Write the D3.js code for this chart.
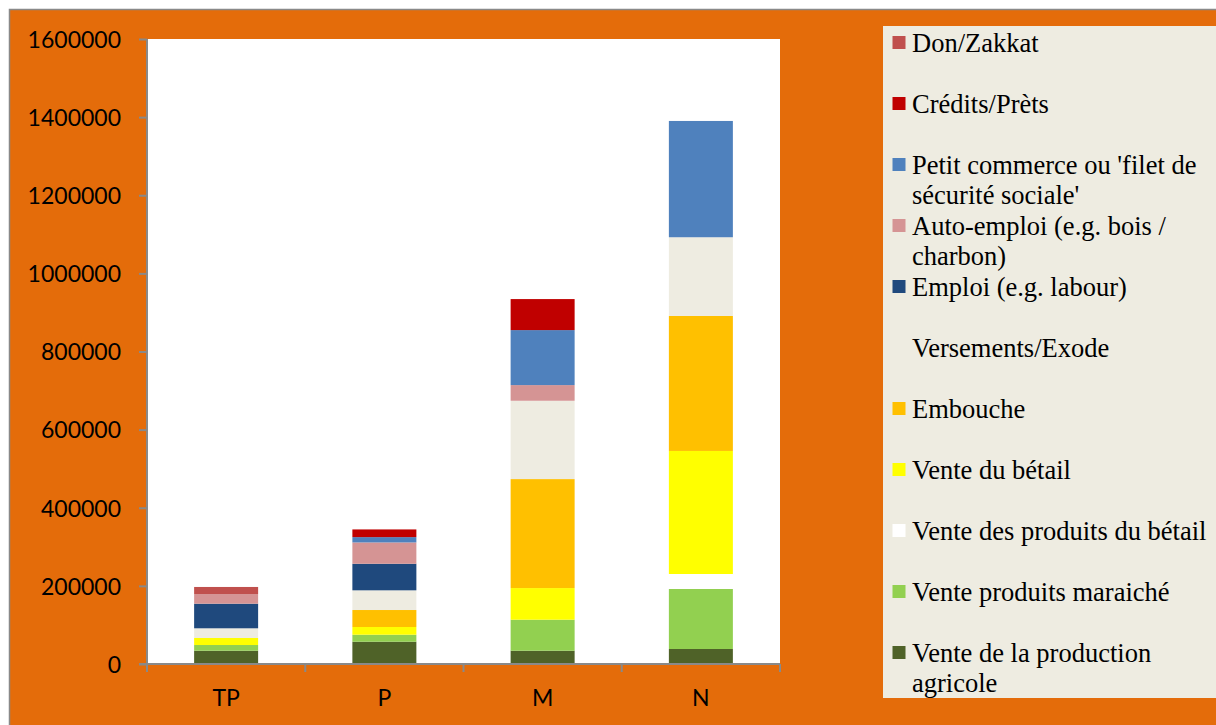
<!DOCTYPE html>
<html>
<head>
<meta charset="utf-8">
<script src="https://cdn.jsdelivr.net/npm/d3@7"></script>
<style>
  html, body { margin: 0; padding: 0; background: #ffffff; }
  svg { display: block; }
</style>
</head>
<body>
<svg id="chart" width="1216" height="725"></svg>
<script>
// ---- data ----
const categories = ["TP", "P", "M", "N"];
const seriesNames = [
  "Vente de la production agricole",
  "Vente produits maraiché",
  "Vente des produits du bétail",
  "Vente du bétail",
  "Embouche",
  "Versements/Exode",
  "Emploi (e.g. labour)",
  "Auto-emploi (e.g. bois / charbon)",
  "Petit commerce ou 'filet de sécurité sociale'",
  "Crédits/Prèts",
  "Don/Zakkat"
];
const venteProductionAgricole = [34000, 57000, 34000, 38400];
const venteProduitsMaraiche   = [14600, 18000, 79400, 153600];
const venteProduitsBetail     = [0, 0, 0, 38400];
const venteBetail             = [18000, 19700, 81000, 315000];
const embouche                = [0, 43500, 279000, 345600];
const versementsExode         = [24800, 50400, 200500, 201500];
const emploi                  = [63000, 68000, 0, 0];
const autoEmploi              = [24800, 54600, 40100, 0];
const petitCommerce           = [0, 13600, 140800, 297700];
const creditsPrets            = [0, 19700, 79400, 0];
const donZakkat               = [18000, 0, 0, 0];
const seriesValues = [
  venteProductionAgricole, venteProduitsMaraiche, venteProduitsBetail, venteBetail,
  embouche, versementsExode, emploi, autoEmploi, petitCommerce, creditsPrets, donZakkat
];
const seriesColors = [
  "#4F6228", "#92D050", "#FFFFFF", "#FFFF00", "#FFC000", "#EEECE1",
  "#1F497D", "#D59494", "#4F81BD", "#C00000", "#C0504D"
];
const yTicks = [0, 200000, 400000, 600000, 800000, 1000000, 1200000, 1400000, 1600000];

// ---- layout ----
const svg = d3.select("#chart");
const W = 1216, H = 725;
const plot = { left: 147, right: 780, top: 39, bottom: 664 };
const ORANGE = "#E46C0A";
const GRAY = "#898989";
const SANS = '"Lato"';
const SERIF = '"Liberation Serif"';

// outer chart frame
svg.append("rect").attr("x", 9.5).attr("y", 9.5).attr("width", W).attr("height", H)
  .attr("fill", ORANGE).attr("stroke", GRAY).attr("stroke-width", 1.5);

// plot background
svg.append("rect").attr("x", plot.left).attr("y", plot.top)
  .attr("width", plot.right - plot.left).attr("height", plot.bottom - plot.top)
  .attr("fill", "#ffffff");

// scales
const x = d3.scaleBand().domain(categories).range([plot.left, plot.right])
  .paddingInner(0.5956).paddingOuter(0.2978);
const y = d3.scaleLinear().domain([0, 1600000]).range([plot.bottom, plot.top]);

// stacked data
const table = categories.map((c, i) => {
  const row = { cat: c };
  seriesNames.forEach((s, j) => { row[s] = seriesValues[j][i]; });
  return row;
});
const stacked = d3.stack().keys(seriesNames)(table);

const g = svg.append("g");
g.selectAll("g.series").data(stacked).join("g")
  .attr("class", "series")
  .attr("fill", (d, i) => seriesColors[i])
  .selectAll("rect").data(d => d.filter(p => p[1] - p[0] > 0)).join("rect")
  .attr("x", d => x(d.data.cat))
  .attr("width", x.bandwidth())
  .attr("y", d => y(d[1]))
  .attr("height", d => y(d[0]) - y(d[1]));

// y axis
const yAxis = svg.append("g").attr("transform", `translate(${plot.left},0)`)
  .call(d3.axisLeft(y).tickValues(yTicks).tickSize(8).tickPadding(18).tickFormat(d => String(d)));
yAxis.attr("font-family", null).attr("font-size", null);
yAxis.select(".domain").attr("stroke", GRAY).attr("stroke-width", 2)
  .attr("d", `M0,${plot.top}V${plot.bottom + 1}`);
yAxis.selectAll(".tick line").attr("stroke", GRAY).attr("stroke-width", 2);
yAxis.selectAll(".tick text")
  .style("font-family", SANS).style("font-size", "23px")
  .attr("fill", "#000").attr("dy", "0.36em");

// x axis
const xAxis = svg.append("g").attr("transform", `translate(0,${plot.bottom})`)
  .call(d3.axisBottom(x).tickSize(0).tickPadding(26));
xAxis.attr("font-family", null).attr("font-size", null);
xAxis.select(".domain").attr("stroke", GRAY).attr("stroke-width", 2)
  .attr("d", `M${plot.left - 8},0H${plot.right}`);
xAxis.selectAll(".tick text")
  .style("font-family", SANS).style("font-size", "23px")
  .attr("fill", "#000");
const step = x.step();
const boundaries = d3.range(categories.length + 1).map(i => plot.left + i * step);
xAxis.selectAll("line.bound").data(boundaries).join("line")
  .attr("class", "bound")
  .attr("x1", d => d).attr("x2", d => d)
  .attr("y1", 0).attr("y2", 8)
  .attr("stroke", GRAY).attr("stroke-width", 2);

// legend
const legend = svg.append("g");
legend.append("rect").attr("x", 883).attr("y", 26).attr("width", 340).attr("height", 672)
  .attr("fill", "#EEECE1");
const legendOrder = seriesNames.map((s, i) => i).reverse();
const textX = 912, maxW = 302, lineH = 30, firstBase = 51.7, entryStep = 61;
legendOrder.forEach((si, k) => {
  const base = firstBase + k * entryStep;
  legend.append("rect").attr("x", 892.5).attr("y", base - 15.7)
    .attr("width", 13).attr("height", 13).attr("fill", seriesColors[si]);
  const t = legend.append("text").attr("x", textX).attr("y", base)
    .style("font-family", SERIF).style("font-size", "26.5px").attr("fill", "#000");
  const words = seriesNames[si].split(" ");
  let line = [];
  let tspan = t.append("tspan").attr("x", textX).attr("y", base)
    .style("font-family", SERIF);
  let lineNo = 0;
  words.forEach(w => {
    line.push(w);
    tspan.text(line.join(" "));
    if (tspan.node().getComputedTextLength() > maxW && line.length > 1) {
      line.pop();
      tspan.text(line.join(" "));
      line = [w];
      lineNo++;
      tspan = t.append("tspan").attr("x", textX).attr("y", base + lineNo * lineH)
        .style("font-family", SERIF).text(w);
    }
  });
});
</script>
</body>
</html>
